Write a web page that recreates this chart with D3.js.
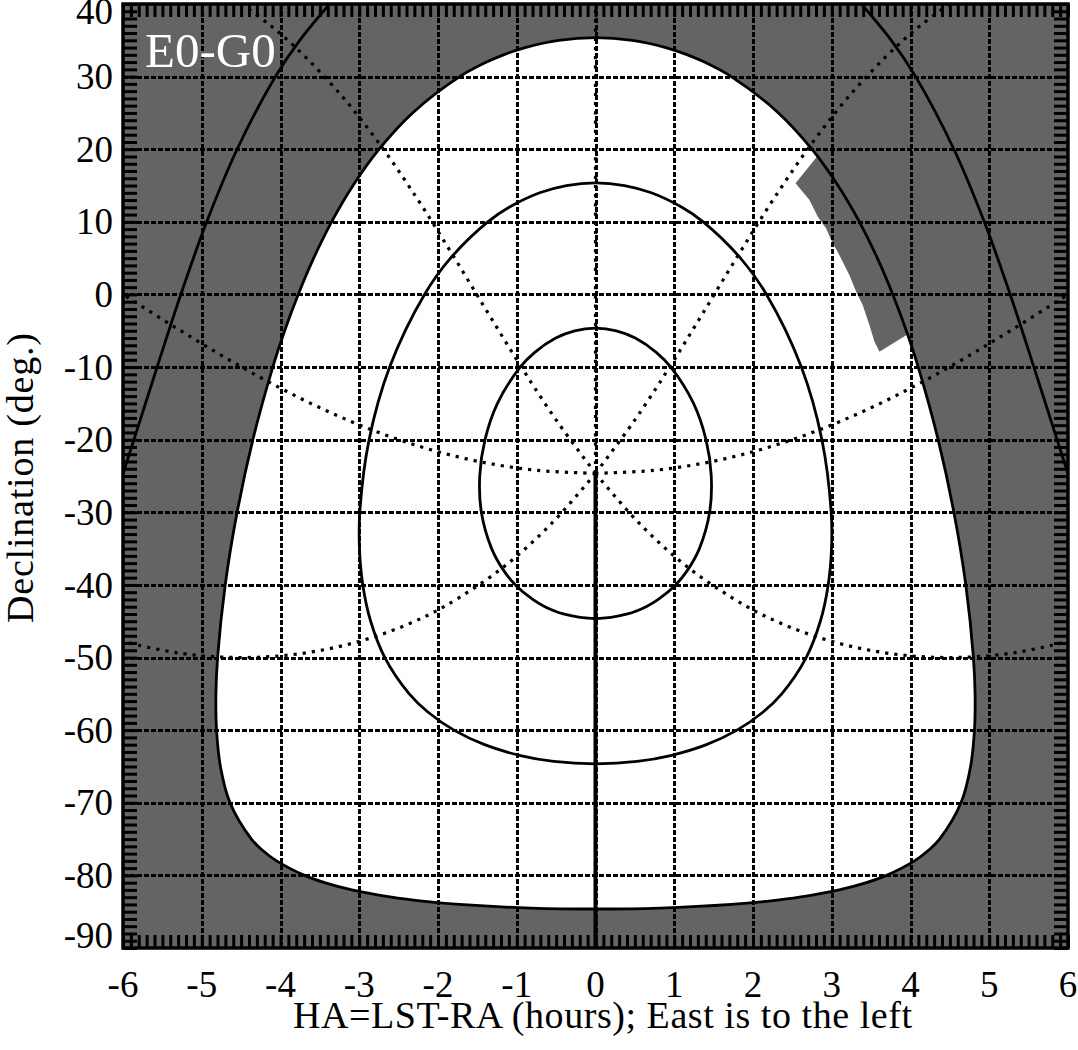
<!DOCTYPE html>
<html>
<head>
<meta charset="utf-8">
<script src="https://cdn.jsdelivr.net/npm/d3@7"></script>
<style>
  html, body { margin: 0; padding: 0; background: #ffffff; }
  svg { display: block; }
  text { font-family: "Liberation Serif", "DejaVu Serif", serif; }
</style>
</head>
<body>
<svg id="chart" width="1078" height="1050"></svg>
<script>
// ---------------- data ----------------
const haTicks  = [-6, -5, -4, -3, -2, -1, 0, 1, 2, 3, 4, 5, 6];
const decTicks = [-90, -80, -70, -60, -50, -40, -30, -20, -10, 0, 10, 20, 30, 40];
const haGrid   = [-5, -4, -3, -2, -1, 0, 1, 2, 3, 4, 5];
const decGrid  = [-80, -70, -60, -50, -40, -30, -20, -10, 0, 10, 20, 30];
const baselineLabel = "E0-G0";

// contour of altitude 30 deg (observable region), west half [HA, Dec]
const alt30West = [[0,35.37],[0.467,35],[0.893,34],[1.169,33],[1.383,32],[1.724,30],[2.323,25],[2.748,20],
  [3.079,15],[3.351,10],[3.579,5],[3.775,0],[3.947,-5],[4.098,-10],[4.351,-20],[4.551,-30],[4.702,-40],
  [4.799,-50],[4.820,-55],[4.812,-60],[4.763,-65],[4.641,-70],[4.369,-75],[4.233,-76.5],[4.050,-78],
  [3.695,-80],[3.440,-81],[3.094,-82],[2.589,-83],[2.229,-83.5],[1.727,-84],[0.822,-84.5],[0,-84.63]];
// contour of altitude 50 deg, west half
const alt50West = [[0,15.37],[0.369,15],[0.709,14],[1.097,12],[1.367,10],[1.841,5],[2.171,0],[2.614,-10],
  [2.875,-20],[2.993,-30],[2.997,-35],[2.955,-40],[2.855,-45],[2.675,-50],[2.365,-55],[2.129,-57.5],
  [1.797,-60],[1.409,-62],[0.954,-63.5],[0.529,-64.3],[0,-64.63]];
// contour of altitude 70 deg, west half
const alt70West = [[0,-4.63],[0.265,-5],[0.505,-6],[0.775,-8],[0.956,-10],[1.245,-15],[1.403,-20],
  [1.470,-25],[1.449,-30],[1.319,-35],[1.167,-38],[1.017,-40],[0.797,-42],[0.643,-43],[0.407,-44],[0,-44.63]];
// contour of altitude 10 deg, east branch
const alt10East = [[-6.0,-24.7],[-5.861,-20],[-5.567,-10],[-5.266,0],[-4.937,10],[-4.551,20],[-4.065,30],
  [-3.756,35],[-3.376,40]];
// azimuth lines from the zenith, east side
const az90East  = [[0,-24.63],[-0.733,-24.23],[-1.455,-23.06],[-2.161,-21.16],[-2.847,-18.62],[-3.511,-15.54],
  [-4.153,-12.03],[-4.779,-8.20],[-5.393,-4.15],[-6,0]];
const az45East  = [[0,-24.63],[-0.493,-17.39],[-0.947,-9.90],[-1.381,-2.27],[-1.811,5.39],[-2.251,12.97],
  [-2.719,20.38],[-3.233,27.48],[-3.816,34.10],[-4.141,37.16],[-4.491,40.0]];
const az135East = [[0,-24.63],[-0.552,-31.47],[-1.187,-37.70],[-1.928,-43.02],[-2.345,-45.24],[-2.793,-47.09],
  [-3.268,-48.52],[-3.767,-49.49],[-4.280,-49.96],[-4.799,-49.91],[-5.310,-49.35],[-5.805,-48.29],[-6,-47.74]];
const azNorth = [[0,-24.63],[0,40]];
const meridianSouth = [[0,-24.63],[0,-90]];
// shadowed / unreachable patch (upper right)
const shadowPatch = [[2.814,19.0],[2.540,15.30],[2.717,13.0],[2.823,10.7],[2.929,9.1],[2.993,7.5],[3.098,5.4],
  [3.225,2.66],[3.310,0.37],[3.394,-1.47],[3.479,-4.23],[3.543,-6.52],[3.606,-7.90],[3.945,-5.61],
  [3.947,-5],[3.775,0],[3.579,5],[3.351,10],[3.079,15],[2.814,19.0]];

// ---------------- layout ----------------
const L = 123, R = 1068, T = 4, B = 948;
const gray = "#646464";
const svg = d3.select("#chart");
const x = d3.scaleLinear().domain([-6, 6]).range([L, R]);
const y = d3.scaleLinear().domain([-90, 40]).range([B, T]);

svg.append("defs").append("clipPath").attr("id", "plotclip")
  .append("rect").attr("x", L).attr("y", T).attr("width", R - L).attr("height", B - T);

const plot = svg.append("g").attr("clip-path", "url(#plotclip)");

plot.append("rect").attr("x", L).attr("y", T).attr("width", R - L).attr("height", B - T).attr("fill", gray);

const mirror = pts => pts.map(p => [-p[0], p[1]]);
const closedLoop = west => west.concat(mirror(west).slice(1, -1).reverse());

const lineOpen = d3.line().x(d => x(d[0])).y(d => y(d[1])).curve(d3.curveCatmullRom.alpha(0.5));
const lineClosed = d3.line().x(d => x(d[0])).y(d => y(d[1])).curve(d3.curveCatmullRomClosed.alpha(0.5));
const lineLinear = d3.line().x(d => x(d[0])).y(d => y(d[1]));

// observable region
plot.append("path").attr("d", lineClosed(closedLoop(alt30West))).attr("fill", "#ffffff");
// shadow patch
plot.append("path").attr("d", lineLinear(shadowPatch) + "Z").attr("fill", gray);

// grid
plot.append("g").selectAll("line").data(haGrid).join("line")
  .attr("x1", d => Math.round(x(d))).attr("x2", d => Math.round(x(d))).attr("y1", T).attr("y2", B)
  .attr("stroke", "#000").attr("stroke-width", 3).attr("stroke-dasharray", "4.5,2.5")
  .attr("shape-rendering", "crispEdges");
plot.append("g").selectAll("line").data(decGrid).join("line")
  .attr("y1", d => Math.round(y(d))).attr("y2", d => Math.round(y(d))).attr("x1", L).attr("x2", R)
  .attr("stroke", "#000").attr("stroke-width", 3).attr("stroke-dasharray", "4.5,2.5")
  .attr("shape-rendering", "crispEdges");

// azimuth lines (dotted)
const azLines = [az90East, mirror(az90East), az45East, mirror(az45East), az135East, mirror(az135East), azNorth];
plot.append("g").selectAll("path").data(azLines).join("path")
  .attr("d", d => lineOpen(d)).attr("fill", "none")
  .attr("stroke", "#000").attr("stroke-width", 3.2).attr("stroke-dasharray", "3.2,6");

// altitude contours (solid)
const solidStyle = sel => sel.attr("fill", "none").attr("stroke", "#000").attr("stroke-width", 2.8);
plot.append("path").attr("d", lineOpen(alt10East)).call(solidStyle);
plot.append("path").attr("d", lineOpen(mirror(alt10East))).call(solidStyle);
plot.append("path").attr("d", lineClosed(closedLoop(alt30West))).call(solidStyle);
plot.append("path").attr("d", lineClosed(closedLoop(alt50West))).call(solidStyle);
plot.append("path").attr("d", lineClosed(closedLoop(alt70West))).call(solidStyle);
plot.append("path").attr("d", lineLinear(meridianSouth)).attr("fill", "none")
  .attr("stroke", "#000").attr("stroke-width", 4);

// minor ticks on all four sides (inward)
const xMinor = d3.range(-60, 61).map(i => i / 10);
const yMinor = d3.range(-90, 41);
function styleAxis(g) {
  g.select(".domain").remove();
  g.selectAll(".tick line").attr("stroke", "#000").attr("stroke-width", 3);
}
svg.append("g").attr("transform", `translate(0,${B})`)
  .call(d3.axisBottom(x).tickValues(xMinor).tickSize(-13).tickFormat("")).call(styleAxis);
svg.append("g").attr("transform", `translate(0,${T})`)
  .call(d3.axisTop(x).tickValues(xMinor).tickSize(-13).tickFormat("")).call(styleAxis);
svg.append("g").attr("transform", `translate(${L},0)`)
  .call(d3.axisLeft(y).tickValues(yMinor).tickSize(-14).tickFormat("")).call(styleAxis);
svg.append("g").attr("transform", `translate(${R},0)`)
  .call(d3.axisRight(y).tickValues(yMinor).tickSize(-14).tickFormat("")).call(styleAxis);

// frame
svg.append("rect").attr("x", L).attr("y", T).attr("width", R - L).attr("height", B - T)
  .attr("fill", "none").attr("stroke", "#000").attr("stroke-width", 3.5);

// tick labels
svg.append("g").selectAll("text").data(haTicks).join("text")
  .attr("x", d => x(d)).attr("y", 997).attr("text-anchor", "middle")
  .attr("font-size", 37).attr("fill", "#000").text(d => d);
svg.append("g").selectAll("text").data(decTicks).join("text")
  .attr("x", 113).attr("y", d => Math.min(935, Math.max(11, y(d))))
  .attr("dy", "0.34em").attr("text-anchor", "end")
  .attr("font-size", 37).attr("fill", "#000").text(d => d);

// axis titles
svg.append("text").attr("x", 602.5).attr("y", 1028).attr("text-anchor", "middle")
  .attr("font-size", 38).attr("textLength", 619).attr("lengthAdjust", "spacing")
  .attr("fill", "#000").text("HA=LST-RA (hours); East is to the left");
svg.append("text").attr("transform", "translate(33,478) rotate(-90)").attr("text-anchor", "middle")
  .attr("font-size", 38).attr("textLength", 290).attr("lengthAdjust", "spacing")
  .attr("fill", "#000").text("Declination (deg.)");

// baseline label
svg.append("text").attr("x", 145).attr("y", 67).attr("font-size", 49)
  .attr("fill", "#ffffff").text(baselineLabel);
</script>
</body>
</html>
